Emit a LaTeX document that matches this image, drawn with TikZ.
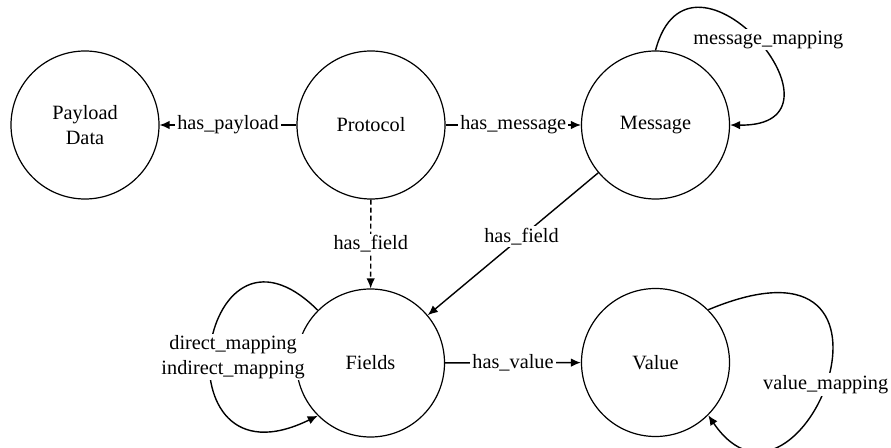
\documentclass[tikz,border=0pt]{standalone}
\usepackage{fontspec}
\setmainfont{Liberation Serif}
\usetikzlibrary{arrows.meta}
\begin{document}
\begin{tikzpicture}[x=1pt,y=1pt,
  every node/.style={font=\rmfamily\fontsize{20.3}{24.5}\selectfont},
  state/.style={circle,draw,line width=1.2pt,minimum size=148pt,inner sep=0pt,align=center},
  conn/.style={line width=1.4pt,-{Latex[length=10pt,width=8.5pt]}},
  lbl/.style={fill=white,inner sep=2pt}]
\useasboundingbox[fill=white] (0,0) rectangle (891,447);
\node[state] (pd) at (85,322) {Payload\\Data};
\node[state] (pr) at (371,322) {Protocol};
\node[state] (ms) at (655.5,322) {Message};
\node[state] (fd) at (370.5,84) {Fields};
\node[state] (vl) at (655.5,84.5) {Value};
\draw[conn] (pr) -- node[lbl]{has\_payload} (pd);
\draw[conn] (pr) -- node[lbl]{has\_message} (ms);
\draw[conn,dash pattern=on 5pt off 3pt] (pr) -- node[lbl]{has\_field} (fd);
\draw[conn] (ms) -- node[lbl,pos=0.45]{has\_field} (fd);
\draw[conn] (fd) -- node[lbl]{has\_value} (vl);
\draw[conn] (fd.135) .. controls (197,257) and (154,-49) .. (fd.225)
  node[lbl,align=center,pos=0.5,xshift=22pt,yshift=-9pt]{direct\_mapping\\indirect\_mapping};
\draw[conn] (ms.90) .. controls (690,527) and (865,320) .. (ms.0)
  node[lbl,pos=0.5,xshift=12pt]{message\_mapping};
\draw[conn] (vl.45) .. controls (935,232) and (800,-103) .. (vl.-45)
  node[lbl,pos=0.5,xshift=-2pt,yshift=-7pt]{value\_mapping};
\end{tikzpicture}
\end{document}
